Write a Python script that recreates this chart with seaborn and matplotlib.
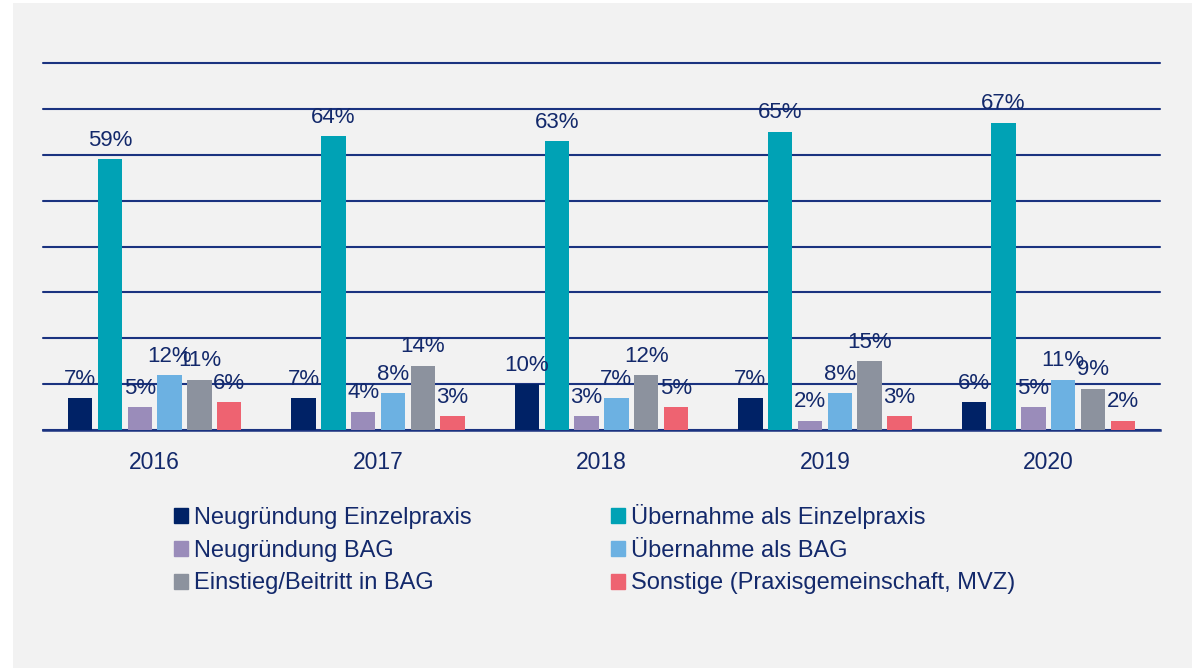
import pandas as pd
import matplotlib.pyplot as plt
import matplotlib.patches as mpatches
import seaborn as sns

sns.set_theme(style="white")
plt.rcParams['font.family'] = ['Liberation Sans', 'DejaVu Sans']

years = ["2016", "2017", "2018", "2019", "2020"]
categories = [
    "Neugründung Einzelpraxis",
    "Übernahme als Einzelpraxis",
    "Neugründung BAG",
    "Übernahme als BAG",
    "Einstieg/Beitritt in BAG",
    "Sonstige (Praxisgemeinschaft, MVZ)",
]
neugruendung_einzel = [7, 7, 10, 7, 6]
uebernahme_einzel = [59, 64, 63, 65, 67]
neugruendung_bag = [5, 4, 3, 2, 5]
uebernahme_bag = [12, 8, 7, 8, 11]
einstieg_bag = [11, 14, 12, 15, 9]
sonstige = [6, 3, 5, 3, 2]

colors = ["#002266", "#00a2b5", "#9a8cba", "#6cb1e2", "#8c929e", "#ee6371"]
text_color = "#13296b"
bg = "#f2f2f2"

series = [neugruendung_einzel, uebernahme_einzel, neugruendung_bag,
          uebernahme_bag, einstieg_bag, sonstige]
rows = []
for cat, vals in zip(categories, series):
    for y, v in zip(years, vals):
        rows.append({"Jahr": y, "Kategorie": cat, "Wert": v})
df = pd.DataFrame(rows)

fig = plt.figure(figsize=(11.94, 6.68), dpi=100, facecolor="white")
fig.patches.append(mpatches.Rectangle((13 / 1194, 0), (1192 - 13) / 1194, 1 - 3 / 668,
                                      transform=fig.transFigure, facecolor=bg,
                                      edgecolor="none", zorder=-1))
ax = fig.add_axes([43 / 1194, 1 - 430 / 668, (1160 - 43) / 1194, (430 - 63) / 668])
ax.set_zorder(1)
ax.set_facecolor(bg)

sns.barplot(data=df, x="Jahr", y="Wert", hue="Kategorie", hue_order=categories,
            palette=colors, saturation=1, width=0.8, gap=0.18, ax=ax, legend=False,
            edgecolor="none", zorder=3)

for cont in ax.containers:
    ax.bar_label(cont, labels=[f"{int(v)}%" for v in cont.datavalues],
                 padding=6, fontsize=16, color=text_color, zorder=4)

ax.set_ylim(0, 80)
ax.set_yticks(range(0, 81, 10))
ax.set_yticklabels([])
ax.yaxis.grid(True, color="#1b3380", linewidth=1.5, zorder=1)
for gl in ax.get_ygridlines():
    gl.set_clip_on(False)
ax.set_axisbelow(True)
ax.tick_params(axis="both", length=0)
ax.tick_params(axis="x", labelsize=16.5, labelcolor=text_color, pad=15)
ax.set_xlabel("")
ax.set_ylabel("")
for s in ["top", "right", "left"]:
    ax.spines[s].set_visible(False)
ax.spines["bottom"].set_color("#1b3380")
ax.spines["bottom"].set_linewidth(1.8)
ax.set_xlim(-0.5, 4.5)

order = [0, 2, 4, 1, 3, 5]
handles = [mpatches.Patch(color=colors[i]) for i in order]
labels = [categories[i] for i in order]
fig.legend(handles, labels, ncol=2, loc="upper left",
           bbox_to_anchor=(153 / 1194, 1 - 483 / 668), frameon=False,
           fontsize=17, labelcolor=text_color, handlelength=0.6, handleheight=0.6,
           handletextpad=0.25, columnspacing=5.9, labelspacing=0.45)

fig.savefig("out.png", dpi=100, facecolor=fig.get_facecolor())
